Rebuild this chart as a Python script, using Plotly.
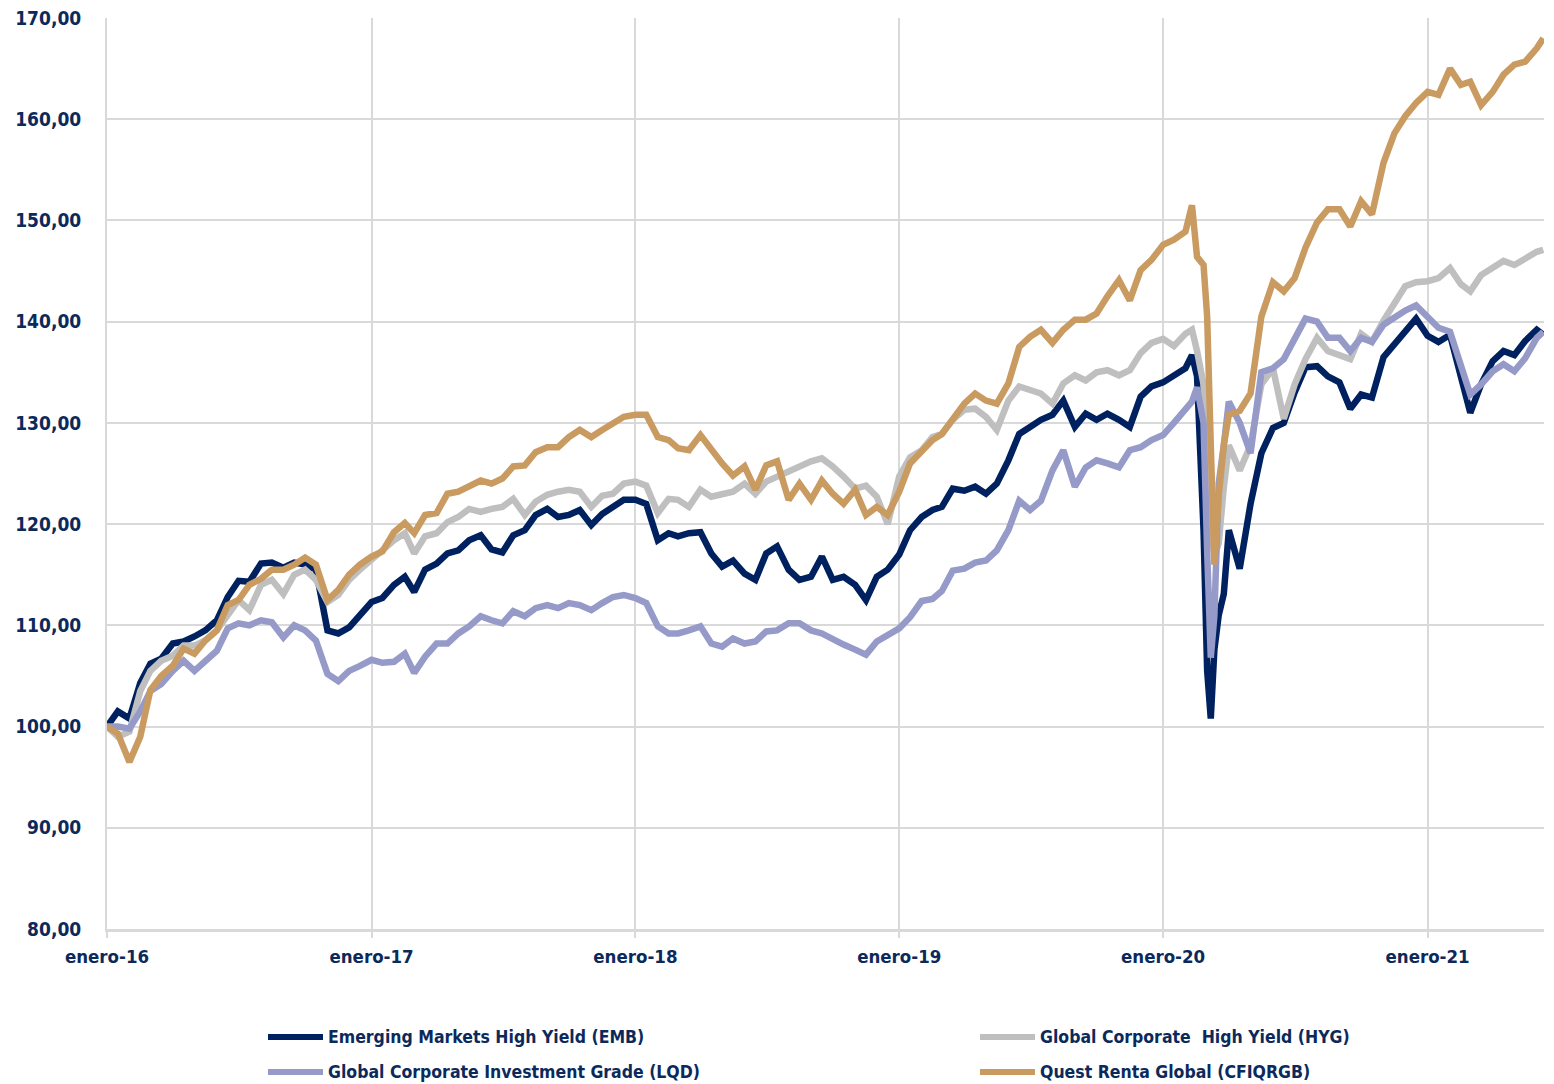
import plotly.graph_objects as go

# --- dates: semi-monthly, with extra points around the March 2020 crash ---
half_months = ["01-01", "01-16", "02-01", "02-16", "03-01", "03-16",
               "04-01", "04-16", "05-01", "05-16", "06-01", "06-16",
               "07-01", "07-16", "08-01", "08-16", "09-01", "09-16",
               "10-01", "10-16", "11-01", "11-16", "12-01", "12-16"]
dates_2020 = ["2020-01-01", "2020-01-16", "2020-02-01", "2020-02-10", "2020-02-17",
              "2020-02-26", "2020-03-02", "2020-03-07", "2020-03-12", "2020-03-18",
              "2020-03-25", "2020-04-01", "2020-04-16", "2020-05-01", "2020-05-16",
              "2020-06-01", "2020-06-16", "2020-07-01", "2020-07-16", "2020-08-01",
              "2020-08-16", "2020-09-01", "2020-09-16", "2020-10-01", "2020-10-16",
              "2020-11-01", "2020-11-16", "2020-12-01", "2020-12-16"]
dates_2021 = ["2021-01-01", "2021-01-16", "2021-02-01", "2021-02-16", "2021-03-01",
              "2021-03-16", "2021-04-01", "2021-04-16", "2021-05-01", "2021-05-16",
              "2021-06-01", "2021-06-10"]
dates = [f"{y}-{md}" for y in (2016, 2017, 2018, 2019) for md in half_months] + dates_2020 + dates_2021

emb = [
    100.0, 101.5, 100.8, 104.3, 106.2, 106.7, 108.2, 108.4, 108.9, 109.5, 110.5, 112.8,
    114.4, 114.3, 116.1, 116.2, 115.7, 116.2, 116.0, 115.5, 109.5, 109.2, 109.8, 111.1,
    112.3, 112.7, 114.0, 114.8, 113.3, 115.5, 116.1, 117.1, 117.4, 118.4, 118.9, 117.5,
    117.2, 118.9, 119.4, 120.9, 121.5, 120.7, 120.9, 121.4, 119.9, 121.0, 121.7, 122.4,
    122.4, 122.0, 118.4, 119.1, 118.8, 119.1, 119.2, 117.1, 115.8, 116.4, 115.1, 114.5,
    117.1, 117.8, 115.5, 114.5, 114.8, 116.8, 114.5, 114.8, 114.0, 112.5, 114.8, 115.5,
    117.0, 119.4, 120.7, 121.4, 121.7, 123.5, 123.3, 123.7, 123.0, 124.0, 126.3, 128.9,
    129.6, 130.3, 130.8, 132.2, 129.6, 130.9, 130.3, 130.9, 130.3, 129.6, 132.6, 133.6,
    134.0, 134.6, 135.4, 136.7, 134.6, 119.4, 105.5, 100.8, 107.6, 111.0, 113.1, 119.4,
    115.6, 122.0, 127.0, 129.5, 130.0, 133.0, 135.5, 135.6, 134.6, 134.0, 131.4, 132.8,
    132.5, 136.5, 137.8, 139.0, 140.3,
    138.6, 138.0, 138.7, 134.4, 131.0, 133.8, 136.1, 137.1, 136.7, 138.1, 139.2, 138.7,
]
hyg = [
    100.0, 99.0, 99.5, 103.5, 105.5, 106.5, 107.0, 108.0, 108.0, 108.5, 109.5, 111.0,
    112.5, 111.5, 114.0, 114.5, 113.1, 115.0, 115.5, 114.5, 112.3, 113.0, 114.5, 115.5,
    116.5, 117.5, 118.4, 119.1, 117.1, 118.8, 119.1, 120.2, 120.7, 121.5, 121.2, 121.5,
    121.7, 122.5, 120.9, 122.2, 122.9, 123.2, 123.4, 123.2, 121.7, 122.8, 123.0, 124.0,
    124.2, 123.8, 121.1, 122.5, 122.4, 121.7, 123.4, 122.7, 123.0, 123.2, 124.0, 123.0,
    124.2, 124.7, 125.2, 125.7, 126.2, 126.5, 125.7, 124.7, 123.5, 123.8, 122.7, 120.0,
    124.7, 126.6, 127.3, 128.6, 128.9, 130.3, 131.3, 131.4, 130.6, 129.3, 132.2, 133.6,
    133.2, 132.9, 131.9, 133.9, 134.7, 134.2, 135.0, 135.2, 134.7, 135.2, 136.9, 137.9,
    138.3, 137.6, 138.8, 139.2, 137.1, 133.8, 127.8, 119.4, 116.9, 118.1, 123.6, 127.8,
    125.3, 127.8, 133.8, 135.4, 130.4, 133.8, 136.3, 138.4, 137.1, 136.7, 136.3, 138.8,
    138.0, 140.1, 141.8, 143.5, 143.9,
    144.0, 144.3, 145.3, 143.7, 143.0, 144.6, 145.3, 146.0, 145.6, 146.3, 146.9, 147.1,
]
lqd = [
    100.0, 100.0, 99.8, 101.5, 103.5, 104.2, 105.5, 106.5, 105.5, 106.5, 107.5, 109.7,
    110.2, 110.0, 110.5, 110.3, 108.8, 110.0, 109.5, 108.5, 105.2, 104.5, 105.5, 106.0,
    106.6, 106.3, 106.4, 107.2, 105.3, 106.9, 108.2, 108.2, 109.2, 109.9, 110.9, 110.5,
    110.2, 111.4, 110.9, 111.7, 112.0, 111.7, 112.2, 112.0, 111.5, 112.2, 112.8, 113.0,
    112.7, 112.2, 109.9, 109.2, 109.2, 109.5, 109.9, 108.2, 107.9, 108.7, 108.2, 108.4,
    109.4, 109.5, 110.2, 110.2, 109.5, 109.2, 108.6, 108.1, 107.6, 107.1, 108.4, 109.0,
    109.7, 110.8, 112.4, 112.6, 113.4, 115.4, 115.6, 116.2, 116.4, 117.4, 119.4, 122.3,
    121.4, 122.3, 125.3, 127.3, 123.7, 125.6, 126.3, 126.0, 125.6, 127.3, 127.6, 128.3,
    128.8, 130.0, 131.2, 132.1, 133.5, 130.0, 117.3, 106.8, 111.0, 124.0, 127.8, 132.1,
    130.0, 127.0, 135.0, 135.4, 136.3, 138.4, 140.3, 140.0, 138.4, 138.4, 137.1, 138.4,
    138.0, 139.7, 140.5, 141.1, 141.6,
    140.4, 139.4, 139.0, 135.4, 132.8, 133.8, 135.1, 135.8, 135.1, 136.4, 138.4, 139.0,
]
quest = [
    100.0, 99.3, 96.5, 99.0, 103.6, 105.0, 106.0, 107.7, 107.2, 108.5, 109.5, 112.0,
    112.5, 114.0, 114.6, 115.5, 115.5, 116.0, 116.7, 116.0, 112.5, 113.5, 115.0, 116.0,
    116.8, 117.3, 119.2, 120.1, 119.1, 120.9, 121.1, 123.0, 123.2, 123.8, 124.3, 124.0,
    124.5, 125.7, 125.8, 127.1, 127.6, 127.6, 128.6, 129.3, 128.6, 129.3, 129.9, 130.6,
    130.8, 130.8, 128.6, 128.3, 127.5, 127.3, 128.8, 127.3, 126.0, 124.8, 125.7, 123.4,
    125.8, 126.2, 122.4, 124.0, 122.4, 124.3, 123.0, 122.0, 123.4, 120.9, 121.7, 120.9,
    123.2, 126.0, 127.1, 128.3, 128.9, 130.3, 131.9, 132.9, 132.2, 131.9, 133.9, 137.5,
    138.5, 139.2, 137.9, 139.2, 140.2, 140.2, 140.8, 142.5, 144.1, 142.1, 145.1, 146.1,
    147.6, 148.1, 148.9, 151.5, 146.4, 145.6, 140.5, 127.8, 116.0, 122.8, 127.8, 130.8,
    131.2, 132.9, 140.5, 143.9, 143.0, 144.3, 147.3, 149.8, 151.1, 151.1, 149.4, 151.9,
    150.6, 155.7, 158.6, 160.3, 161.6,
    162.7, 162.4, 165.0, 163.4, 163.7, 161.4, 162.7, 164.4, 165.4, 165.7, 167.0, 168.0,
]

series_names = ["Emerging Markets High Yield (EMB)", "Global Corporate  High Yield (HYG)",
                "Global Corporate Investment Grade (LQD)", "Quest Renta Global (CFIQRGB)"]
series_values = [emb, hyg, lqd, quest]
series_colors = ["#00215F", "#BFBFBF", "#959AC8", "#C99B60"]

tick_dates = ["2016-01-01", "2017-01-01", "2018-01-01", "2019-01-01", "2020-01-01", "2021-01-01"]
tick_labels = ["enero-16", "enero-17", "enero-18", "enero-19", "enero-20", "enero-21"]

TEXT = "#0B2A5B"
GRID = "#D9D9D9"
FONT = "DejaVu Sans Condensed, Liberation Sans Narrow, sans-serif"

# the page body adds an 8px margin, so the figure is drawn 8px smaller
# and every pixel position below is given in screenshot pixels minus 8
OFF = 8
W, H = 1554 - OFF, 1084 - OFF
L, R, T, B = 107 - OFF, 10, 18 - OFF, 155
pw, ph = W - L - R, H - T - B


def px_x(x):
    return (x - OFF - L) / pw


def px_y(y):
    return (H - B - (y - OFF)) / ph


fig = go.Figure()
for name, vals, col in zip(series_names, series_values, series_colors):
    fig.add_trace(go.Scatter(
        x=dates, y=vals, name=name, mode="lines",
        line=dict(color=col, width=6.5),
        showlegend=False,
    ))

# legend: two columns, two rows (screenshot pixel positions)
legend_pos = [(268, 1037), (980, 1037), (268, 1072), (980, 1072)]
for (lx, ly), name, col in zip(legend_pos, series_names, series_colors):
    fig.add_shape(type="line", xref="paper", yref="paper",
                  x0=px_x(lx), x1=px_x(lx + 55), y0=px_y(ly), y1=px_y(ly),
                  line=dict(color=col, width=6))
    fig.add_annotation(xref="paper", yref="paper", x=px_x(lx + 58), y=px_y(ly),
                       text=name, showarrow=False, xanchor="left", yanchor="middle",
                       font=dict(family=FONT, size=17.5, color=TEXT, weight="bold"))

fig.update_layout(
    width=W, height=H,
    margin=dict(l=L, r=R, t=T, b=B, autoexpand=False),
    paper_bgcolor="white", plot_bgcolor="white",
    separators=",.",
    font=dict(family=FONT, size=19, color=TEXT),
    showlegend=False,
)
fig.update_xaxes(
    type="date", range=["2016-01-01", "2021-06-11"],
    tickvals=tick_dates, ticktext=tick_labels,
    showgrid=True, gridcolor=GRID, gridwidth=2,
    showline=True, linecolor=GRID, linewidth=3,
    ticks="outside", ticklen=6, tickcolor=GRID, tickwidth=2,
    ticklabelstandoff=3, automargin=False, ticklabeloverflow="allow",
    tickfont=dict(family=FONT, size=18.5, color=TEXT, weight="bold"),
    zeroline=False,
)
fig.update_yaxes(
    range=[80, 170], dtick=10, tick0=80, tickformat=".2f",
    showgrid=True, gridcolor=GRID, gridwidth=2,
    showline=True, linecolor=GRID, linewidth=2,
    ticks="", ticklabelstandoff=20, automargin=False, ticklabeloverflow="allow",
    tickfont=dict(family=FONT, size=19, color=TEXT, weight="bold"),
    zeroline=False,
)

fig.write_html("out.html")
